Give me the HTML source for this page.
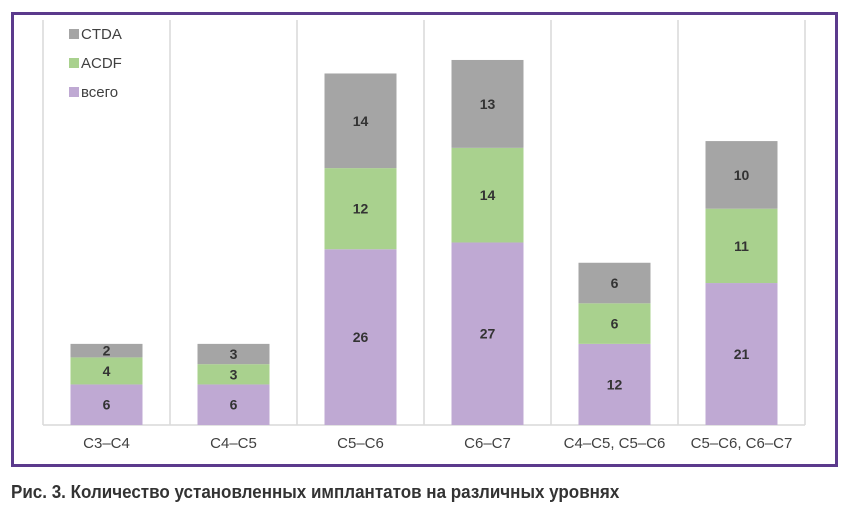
<!DOCTYPE html>
<html><head><meta charset="utf-8"><style>
body{margin:0;background:#fff;width:849px;height:516px;overflow:hidden;font-family:"Liberation Sans",sans-serif}
#frame{position:absolute;left:11px;top:12px;width:821px;height:449px;border:3px solid #5b3a8c}
#caption{position:absolute;left:11px;top:482px;font-family:"Liberation Sans",sans-serif;font-weight:bold;font-size:18px;color:#333;white-space:nowrap;transform:scaleX(0.945);transform-origin:left top}
</style></head><body>
<div id="frame"></div>
<svg id="chart" width="849" height="516" style="position:absolute;left:0;top:0"></svg>
<div id="caption">Рис. 3. Количество установленных имплантатов на различных уровнях</div>
<script>
const categories=["C3\u2013C4","C4\u2013C5","C5\u2013C6","C6\u2013C7","C4\u2013C5, C5\u2013C6","C5\u2013C6, C6\u2013C7"];
const vsego=[6,6,26,27,12,21];
const acdf=[4,3,12,14,6,11];
const ctda=[2,3,14,13,6,10];
const seriesNames=["CTDA","ACDF","всего"];
const NS="http://www.w3.org/2000/svg";
const svg=document.getElementById('chart');
const x0=43,colW=127,baseY=425,pxPer=6.76,barW=72;
const xCenter=i=>x0+colW*i+colW/2;
const yScale=v=>baseY-v*pxPer;
function mk(t,a){const e=document.createElementNS(NS,t);for(const k in a)e.setAttribute(k,a[k]);svg.appendChild(e);return e;}
for(let i=0;i<=categories.length;i++){
  const l=mk('line',{x1:x0+colW*i,x2:x0+colW*i,y1:20,y2:baseY,stroke:'#d9d9d9','stroke-width':1.5});
  
  
}
const ax=mk('line',{x1:x0,x2:x0+colW*categories.length,y1:baseY,y2:baseY,stroke:'#d9d9d9','stroke-width':1.5});


const colors=['#bfa9d3','#a9d18e','#a5a5a5'];
const series=[vsego,acdf,ctda];
const sn=['vsego','acdf','ctda'];
categories.forEach((c,i)=>{
  let cum=0;
  series.forEach((s,k)=>{
    const v=s[i];const y1=yScale(cum),y2=yScale(cum+v);
    const r=mk('rect',{x:xCenter(i)-barW/2,y:y2,width:barW,height:y1-y2,fill:colors[k]});
    
    
    const t=mk('text',{x:xCenter(i),y:(y1+y2)/2+5,'text-anchor':'middle','font-size':14,'font-weight':'bold',fill:'#333'});
    t.textContent=v;
    
    
    cum+=v;
  });
  const lb=mk('text',{x:xCenter(i),y:448,'text-anchor':'middle','font-size':15,fill:'#404040'});
  lb.textContent=c;
  
  
});
const legColors=['#a5a5a5','#a9d18e','#bfa9d3'];
seriesNames.forEach((n,k)=>{
  const y=34+k*29;
  const r=mk('rect',{x:69,y:y-5,width:10,height:10,fill:legColors[k]});
  
  
  const t=mk('text',{x:81,y:y+5,'font-size':15,fill:'#404040'});
  t.textContent=n;
  
  
});
</script>
</body></html>
